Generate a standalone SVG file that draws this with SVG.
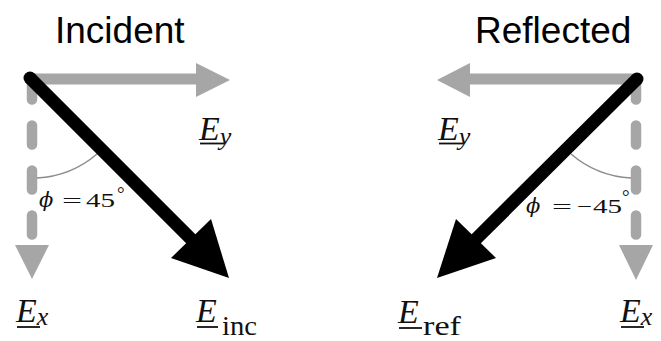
<svg xmlns="http://www.w3.org/2000/svg" width="661" height="341" viewBox="0 0 661 341">
<style>
.title{font-family:"Liberation Sans",Arial,sans-serif;font-size:37px;fill:#000}
.E{font-family:'Liberation Serif','Times New Roman',serif;font-style:italic;font-size:34px;fill:#111}
.si{font-style:italic;font-size:26px}
.sr{font-family:'Liberation Serif','Times New Roman',serif;font-style:normal;font-size:27px;fill:#111}
.ul{stroke:#111;stroke-width:1.8}
.gs{stroke:#a6a6a6;fill:none;stroke-width:11}
.gd{stroke:#a6a6a6;fill:none;stroke-width:10.5;stroke-dasharray:19 26;stroke-linecap:round}
.gh{fill:#a6a6a6}
.bs{stroke:#000;stroke-width:13}
.bh{fill:#000}
.phi{font-family:'Liberation Serif','DejaVu Serif',serif;font-size:19px;fill:#111}
.ph{font-family:'DejaVu Serif',serif;font-style:italic;font-size:21px;fill:#111}
.arc{stroke:#8c8c8c;stroke-width:1.5;fill:none}
</style>
<rect width="661" height="341" fill="#fff"/>
<g id="connectors">
  <line class="gs" x1="30" y1="79" x2="198" y2="79"/>
  <polygon class="gh" points="196,63 230,80 196,97"/>
  <line class="gd" x1="32" y1="80.5" x2="32" y2="245"/>
  <polygon class="gh" points="15,245 49,245 32,279"/>
  <path class="arc" d="M37 178 A100 100 0 0 0 97 154"/>
  <line class="bs" x1="30" y1="78" x2="193" y2="241"/>
  <circle cx="30" cy="78" r="6.5" fill="#000"/>
  <polygon class="bh" points="229,278 171,258 211,219"/>
  <line class="gs" x1="468" y1="79" x2="637" y2="79"/>
  <polygon class="gh" points="470,63 437,80 470,97"/>
  <line class="gd" x1="636" y1="80.5" x2="636" y2="245"/>
  <polygon class="gh" points="619,245 653,245 636,280"/>
  <path class="arc" d="M631 178 A100 100 0 0 1 571 154"/>
  <line class="bs" x1="637" y1="79" x2="474" y2="241"/>
  <circle cx="637" cy="79" r="6.5" fill="#000"/>
  <polygon class="bh" points="437,278 496,258 456,219"/>
</g>
<g id="title-incident"><text class="title" x="55" y="43">Incident</text></g>
<g id="title-reflected"><text class="title" x="475" y="43">Reflected</text></g>
<g id="label-ey-inc">
  <text class="E" x="199" y="140">E<tspan class="si" dy="5">y</tspan></text>
  <line class="ul" x1="200" y1="143.5" x2="224" y2="143.5"/>
</g>
<g id="label-ex-inc">
  <text class="E" x="16" y="322">E<tspan class="si" dy="3">x</tspan></text>
  <line class="ul" x1="17" y1="327" x2="40" y2="327"/>
</g>
<g id="label-einc">
  <text class="E" x="196" y="322">E</text>
  <text class="sr" x="222" y="335" textLength="35" lengthAdjust="spacingAndGlyphs">inc</text>
  <line class="ul" x1="197" y1="327" x2="218" y2="327"/>
</g>
<g id="label-phi-inc">
  <text class="ph" x="39" y="207">ϕ</text>
  <text class="phi" x="62" y="207" textLength="20" lengthAdjust="spacingAndGlyphs">=</text>
  <text class="phi" x="86" y="207" textLength="29" lengthAdjust="spacingAndGlyphs">45</text>
  <text class="phi" x="117" y="200">°</text>
</g>
<g id="label-ey-ref">
  <text class="E" x="438" y="140">E<tspan class="si" dy="5">y</tspan></text>
  <line class="ul" x1="439" y1="143.5" x2="463" y2="143.5"/>
</g>
<g id="label-ex-ref">
  <text class="E" x="620" y="322">E<tspan class="si" dy="3">x</tspan></text>
  <line class="ul" x1="621" y1="327" x2="644" y2="327"/>
</g>
<g id="label-eref">
  <text class="E" x="398" y="323">E</text>
  <text class="sr" x="423" y="335" textLength="38" lengthAdjust="spacingAndGlyphs">ref</text>
  <line class="ul" x1="399" y1="328" x2="422" y2="328"/>
</g>
<g id="label-phi-ref">
  <text class="ph" x="526" y="213">ϕ</text>
  <text class="phi" x="552" y="213" textLength="20" lengthAdjust="spacingAndGlyphs">=</text>
  <text class="phi" x="577" y="213" textLength="15" lengthAdjust="spacingAndGlyphs">−</text>
  <text class="phi" x="593" y="213" textLength="29" lengthAdjust="spacingAndGlyphs">45</text>
  <text class="phi" x="622" y="203">°</text>
</g>
</svg>
